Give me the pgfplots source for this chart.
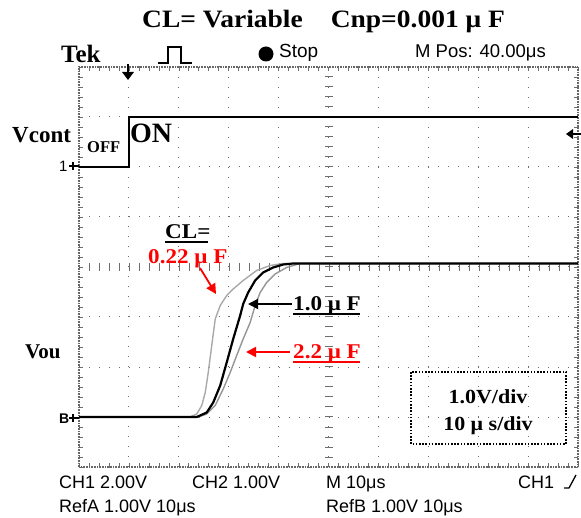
\documentclass[border=0pt]{standalone}
\usepackage{fontspec}
\setmainfont{Liberation Serif}
\newfontfamily\wideserif[FakeStretch=1.1]{Liberation Serif}
\newfontfamily\tekfont{Liberation Sans}
\usepackage{pgfplots}
\pgfplotsset{compat=1.18}
\usetikzlibrary{arrows.meta}
\definecolor{refA}{HTML}{A9A9A9}
\definecolor{refB}{HTML}{959595}
\definecolor{annred}{HTML}{FF0000}
\definecolor{gridc}{HTML}{6E6E6E}

\newcommand{\bsz}[1]{\bfseries\fontsize{#1}{#1}\selectfont}
\newcommand{\wsz}[1]{\wideserif\bfseries\fontsize{#1}{#1}\selectfont}
\newcommand{\tsz}[1]{\tekfont\fontsize{#1}{#1}\selectfont}

\begin{document}
\begin{tikzpicture}
\useasboundingbox (0pt,0pt) rectangle (581pt,-518pt);

% centre cross of the graticule (drawn under the traces)
\begin{scope}[x=1pt,y=-1pt]
  \foreach \yy in {77,87,...,457} \draw[gridc, line width=1pt] (325,\yy)--(333,\yy);
  \foreach \xx in {89,99,...,569} \draw[gridc, line width=1pt] (\xx,263)--(\xx,271);
\end{scope}

\begin{axis}[
  at={(79pt,-467pt)}, anchor=south west,
  width=499pt, height=400pt, scale only axis,
  xmin=0, xmax=100, ymin=-1, ymax=7,
  xtick={0,10,...,100}, ytick={-1,0,...,7},
  xticklabels={}, yticklabels={},
  minor tick num=4,
  tick align=inside,
  major tick length=4pt, minor tick length=4pt,
  tick style={gridc, line width=0.6pt},
  grid=major,
  major grid style={gridc, line width=1pt, dash pattern=on 1pt off 8.98pt},
  axis line style={black!60, line width=2.4pt, dash pattern=on 0.8pt off 0.8pt},
]
% Vcont (CH1)
\addplot[black, line width=2.4pt] coordinates {(0,5) (10,5) (10,6) (100,6)};
% RefA: CL = 0.22 uF
\addplot[refA, line width=1.4pt] coordinates {
  (0,0) (22.2,0) (23.6,0.06) (24.6,0.23) (25.3,0.49) (25.9,0.89) (26.6,1.43)
  (27.3,1.96) (28.3,2.23) (29.6,2.43) (30.9,2.56) (32.9,2.73) (35.6,2.93)
  (38.3,3.03) (40.9,3.07) (100,3.07)};
% RefB: CL = 2.2 uF
\addplot[refB, line width=1.4pt] coordinates {
  (0,0) (23.9,0) (25.6,0.06) (27.3,0.23) (28.9,0.56) (30.3,0.89) (31.6,1.23)
  (32.9,1.56) (34.3,1.89) (35.3,2.23) (36.3,2.49) (37.6,2.69) (39.3,2.86)
  (41.6,2.99) (44.3,3.07) (100,3.07)};
% CH2: CL = 1.0 uF
\addplot[black, line width=2.2pt] coordinates {
  (0,0) (23.6,0) (25.6,0.09) (26.9,0.29) (28.3,0.63) (29.6,1.09) (30.9,1.56)
  (32.3,2.03) (32.9,2.26) (33.9,2.49) (35.3,2.73) (36.9,2.89) (38.9,2.99)
  (40.9,3.05) (42.9,3.07) (100,3.07)};
\end{axis}

\begin{scope}[x=1pt,y=-1pt]
  % title
  \node[anchor=base west, inner sep=0pt, font=\wsz{25}] at (142,28)
    {CL= Variable\hspace{28pt}Cnp=0.001 μ F};
  % scope header
  \node[anchor=base west, inner sep=0pt, font=\bsz{25}] at (61,63) {Tek};
  \draw[line width=1.3pt] (158,63)--(168,63)--(168,47)--(181,47)--(181,63)--(192,63);
  \fill (266,54) circle (7.5);
  \node[anchor=base west, inner sep=0pt, font=\tsz{19}] at (279,58) {Stop};
  \node[anchor=base west, inner sep=0pt, font=\tsz{18.5}] at (415,58) {M Pos: 40.00μs};
  % trigger markers
  \draw[line width=1.6pt] (128,64)--(128,73);
  \fill (122,72)--(134,72)--(128,80)--cycle;
  \draw[line width=1.5pt] (571,134)--(581,134);
  \fill (566,134)--(573,129)--(573,139)--cycle;
  % channel markers
  \node[anchor=base west, inner sep=0pt, font=\tsz{15}] at (59,172) {1};
  \draw[line width=1.6pt] (69,166)--(79,166) (73,162)--(73,170);
  \node[anchor=base west, inner sep=0pt, font=\tsz{14}\bfseries] at (59,424) {B};
  \draw[line width=1.6pt] (69,418)--(79,418) (73,414)--(73,422);
  % channel labels
  \node[anchor=base west, inner sep=0pt, font=\bsz{23}] at (12,143) {Vcont};
  \node[anchor=base west, inner sep=0pt, font=\bsz{21}] at (25,359) {Vou};
  \node[anchor=base west, inner sep=0pt, font=\bsz{16.5}] at (87,153) {OFF};
  \node[anchor=base west, inner sep=0pt, font=\bsz{28}] at (130,143) {ON};
  % annotations
  \node[anchor=base west, inner sep=0pt, font=\wsz{21}] at (165,239) {CL=};
  \draw[line width=1.5pt] (165,242)--(208,242);
  \node[anchor=base west, inner sep=0pt, font=\wsz{21}, text=annred] at (148,264) {0.22 μ F};
  \draw[annred, line width=1.8pt, -{Triangle[length=10pt,width=10pt]}] (200,268)--(216,294);
  \node[anchor=base west, inner sep=0pt, font=\wsz{21}] at (293,311) {1.0 μ F};
  \draw[line width=1.5pt] (293,314)--(360,314);
  \draw[black, line width=1.8pt, -{Triangle[length=10pt,width=10pt]}] (292,304)--(248,304);
  \node[anchor=base west, inner sep=0pt, font=\wsz{21}, text=annred] at (293,359) {2.2 μ F};
  \draw[annred, line width=1.5pt] (293,362)--(360,362);
  \draw[annred, line width=1.8pt, -{Triangle[length=10pt,width=10pt]}] (290,352)--(246,352);
  % scale box
  \draw[line width=1.6pt, dash pattern=on 1.6pt off 1.6pt] (411,372) rectangle (566,444);
  \node[anchor=base, inner sep=0pt, font=\wsz{20}] at (488,403) {1.0V/div};
  \node[anchor=base, inner sep=0pt, font=\wsz{20}] at (488,430) {10 μ s/div};
  % bottom readouts
  \node[anchor=base west, inner sep=0pt, font=\tsz{18}] at (59,488) {CH1 2.00V};
  \node[anchor=base west, inner sep=0pt, font=\tsz{18}] at (192,488) {CH2 1.00V};
  \node[anchor=base west, inner sep=0pt, font=\tsz{18}] at (326,488) {M 10μs};
  \node[anchor=base west, inner sep=0pt, font=\tsz{18}] at (518,488) {CH1};
  \draw[line width=1.3pt] (564,488)--(569,488)--(576,475);
  \node[anchor=base west, inner sep=0pt, font=\tsz{18}] at (59,512) {RefA 1.00V 10μs};
  \node[anchor=base west, inner sep=0pt, font=\tsz{18}] at (326,512) {RefB 1.00V 10μs};
\end{scope}
\end{tikzpicture}
\end{document}
